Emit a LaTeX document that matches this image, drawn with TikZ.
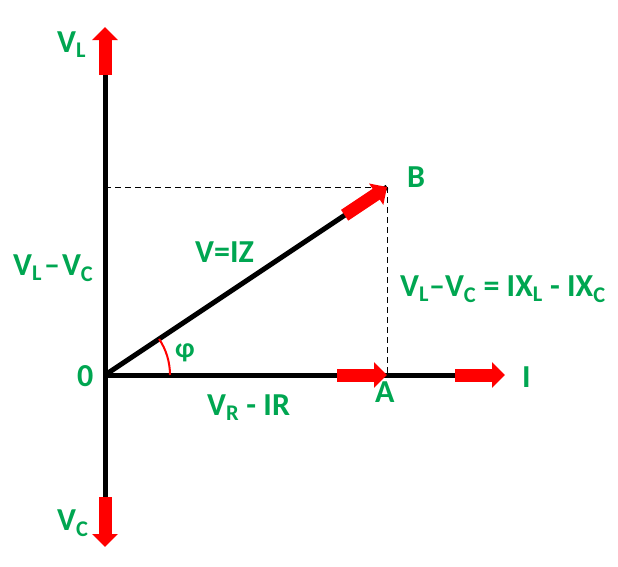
\documentclass[tikz,border=0pt]{standalone}
\usepackage{fontspec}
\setmainfont{Carlito}
\usepackage{tikz}
\tikzset{>=latex}
\usetikzlibrary{arrows.meta, calc}
\definecolor{phasorgreen}{RGB}{0,166,81}
\tikzset{
  axis/.style={line width=5pt, black},
  redarrow/.style={line width=13pt, red, -{Triangle[width=25pt,length=13pt]}},
  guide/.style={line width=1pt, dash pattern=on 6pt off 4pt},
  lbl/.style={text=phasorgreen, font=\fontsize{32}{38}\selectfont\bfseries, inner sep=0pt, anchor=base west},
}
\def\unit{1pt}

\begin{document}
\begin{tikzpicture}[x=\unit, y=\unit]
\useasboundingbox (-105,-191) rectangle (513,375);

    \coordinate (O) at (0, 0);
    \coordinate (A) at (282, 0);
    \coordinate (B) at (282, 188);
    \coordinate (top) at (0, 300);
    \coordinate (bottom) at (0, -122);
    \coordinate (right) at (350, 0);

    % projections of B
    \draw[guide] (0, 188) -- (B);
    \draw[guide] (B) -- (A);

    % axes and the phasor V
    \draw[axis] (bottom) -- (top);
    \draw[axis] (O) -- (right);
    \draw[axis] (O) -- (B);

    \draw[redarrow] (top) -- (0, 348);
    \draw[redarrow] (bottom) -- (0, -172);
    \draw[redarrow] (right) -- (400, 0);
    \draw[redarrow] (232, 0) -- (A);
    \draw[redarrow] ($(O)!288pt!(B)$) -- (B);

    \draw[red, line width=2pt] (65, 0) arc[start angle=0, end angle=33.69, radius=65pt];

    \node[lbl] (vl) at (-48, 323) {V\textsubscript{L}};
    \node[lbl] (vc) at (-48, -155) {V\textsubscript{C}};
    \node[lbl] (vlvc) at (-92, 100) {V\textsubscript{L}\hspace{2pt}–\hspace{2pt}V\textsubscript{C}};
    \node[lbl] (viz) at (90, 113) {V=IZ};
    \node[lbl] (lb) at (302, 188) {B};
    \node[lbl] (ixl) at (295, 79) {V\textsubscript{L}–V\textsubscript{C} = IX\textsubscript{L} - IX\textsubscript{C}};
    \node[lbl, anchor=center, font=\fontsize{28}{34}\selectfont\bfseries] (phi) at (80, 22) {φ};
    \node[lbl] (zero) at (-28, -11) {0};
    \node[lbl] (vr) at (102, -40) {V\textsubscript{R} - IR};
    \node[lbl] (la) at (270, -27) {A};
    \node[lbl] (li) at (417, -12) {I};

\end{tikzpicture}
\end{document}
